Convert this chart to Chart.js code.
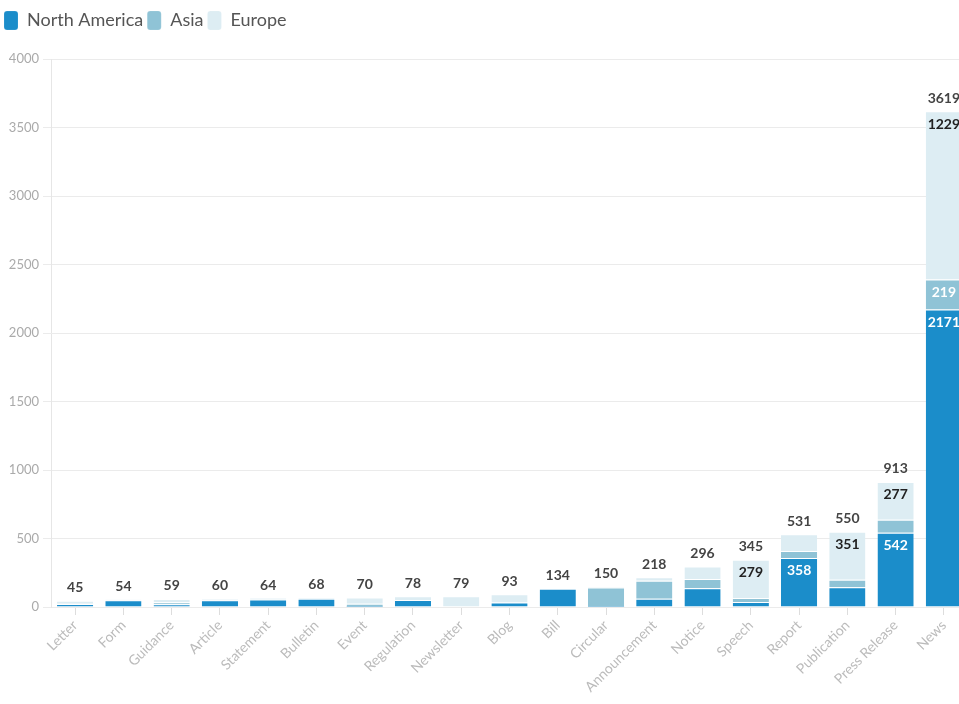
<!DOCTYPE html>
<html>
<head>
<meta charset="utf-8">
<script src="https://cdn.jsdelivr.net/npm/chart.js@4"></script>
<style>
  html, body { margin: 0; padding: 0; background: #fff; overflow: hidden; }
  #wrap { width: 968px; height: 704px; }
</style>
</head>
<body>
<div id="wrap"><canvas id="chart" width="968" height="704"></canvas></div>
<script>
const categories = ['Letter', 'Form', 'Guidance', 'Article', 'Statement', 'Bulletin', 'Event', 'Regulation',
    'Newsletter', 'Blog', 'Bill', 'Circular', 'Announcement', 'Notice', 'Speech', 'Report', 'Publication',
    'Press Release', 'News'];
const northAmerica = [22, 50, 20, 50, 55, 60, 2, 52, 0, 33, 134, 2, 61, 136, 36, 358, 145, 542, 2171];
const asia = [3, 2, 15, 3, 4, 3, 22, 0, 0, 2, 0, 140, 131, 68, 30, 51, 54, 94, 219];
const europe = [20, 2, 24, 7, 5, 5, 46, 26, 79, 58, 0, 8, 26, 92, 279, 122, 351, 277, 1229];
const yTicks = [0, 500, 1000, 1500, 2000, 2500, 3000, 3500, 4000];

const FONT = 'Lato, "Open Sans", sans-serif';

// segment labels only when the piece is tall enough to hold them
const minLabelValue = 200;

const valueLabels = {
    id: 'valueLabels',
    afterDatasetsDraw(chart) {
        const ctx = chart.ctx;
        ctx.save();
        ctx.font = 'bold 14px ' + FONT;
        ctx.textAlign = 'center';
        ctx.textBaseline = 'middle';
        const metas = chart.data.datasets.map((d, i) => chart.getDatasetMeta(i));
        categories.forEach((c, idx) => {
            let total = 0;
            metas.forEach((meta, di) => {
                const v = chart.data.datasets[di].data[idx];
                total += v;
                if (v >= minLabelValue) {
                    const bar = meta.data[idx];
                    ctx.fillStyle = chart.data.datasets[di].labelColor;
                    ctx.fillText(String(v), bar.x, bar.y + 13);
                }
            });
            const top = metas[metas.length - 1].data[idx];
            ctx.fillStyle = '#444';
            ctx.fillText(String(total), top.x, top.y - 13);
        });
        ctx.restore();
    }
};

const legendSpace = {
    id: 'legendSpace',
    beforeInit(chart) {
        const fit = chart.legend.fit;
        chart.legend.fit = function() {
            fit.bind(this)();
            this.height = 52;
        };
    }
};

function series(label, data, color, labelColor) {
    return {
        label: label,
        data: data,
        backgroundColor: color,
        borderColor: 'rgba(255,255,255,0.55)',
        borderWidth: { top: 1 },
        borderSkipped: 'bottom',
        labelColor: labelColor,
        barPercentage: 0.75,
        categoryPercentage: 1.0
    };
}

new Chart(document.getElementById('chart').getContext('2d'), {
    type: 'bar',
    data: {
        labels: categories,
        datasets: [
            series('North America', northAmerica, '#1b8dca', '#fff'),
            series('Asia', asia, '#8fc3d6', '#fff'),
            series('Europe', europe, '#ddedf3', '#222')
        ]
    },
    options: {
        responsive: false,
        animation: false,
        layout: { padding: { left: 0, right: 0, top: 7, bottom: 0 } },
        plugins: {
            legend: {
                position: 'top',
                align: 'start',
                labels: {
                    boxWidth: 14,
                    boxHeight: 19,
                    useBorderRadius: true,
                    borderRadius: 3,
                    padding: 4,
                    color: '#555',
                    font: { family: FONT, size: 18 }
                }
            },
            tooltip: { enabled: false }
        },
        scales: {
            x: {
                stacked: true,
                offset: true,
                grid: { display: true, drawOnChartArea: false, offset: false, tickLength: 8, color: '#ddd' },
                border: { display: false },
                ticks: {
                    maxRotation: 45,
                    minRotation: 45,
                    color: '#bbb',
                    padding: 2,
                    font: { family: FONT, size: 14 }
                },
                afterFit(scale) { scale.height = 97; }
            },
            y: {
                stacked: true,
                min: 0,
                max: 4000,
                afterBuildTicks(scale) { scale.ticks = yTicks.map(v => ({ value: v })); },
                grid: { color: '#ebebeb', tickLength: 8 },
                border: { display: true, color: '#e6e6e6' },
                ticks: {
                    color: '#aaa',
                    padding: 4,
                    font: { family: FONT, size: 13 },
                    callback: v => String(v)
                },
                afterFit(scale) { scale.width = 51; }
            }
        }
    },
    plugins: [legendSpace, valueLabels]
});
</script>
</body>
</html>
